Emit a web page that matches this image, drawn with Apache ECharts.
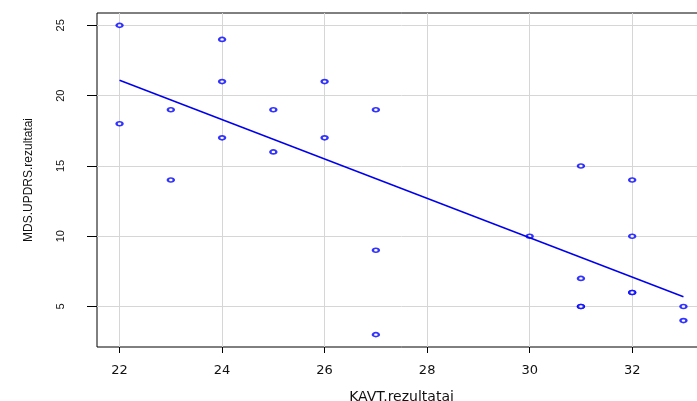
<!DOCTYPE html>
<html>
<head>
<meta charset="utf-8">
<script src="https://cdn.jsdelivr.net/npm/echarts@6/dist/echarts.min.js"></script>
<style>
html, body { margin: 0; padding: 0; background: #fff; overflow: hidden; width: 697px; height: 401px; }
#wrap { width: 697px; height: 401px; overflow: hidden; position: relative; }
#chart { width: 720px; height: 401px; position: absolute; left: 0; top: 0; }
</style>
</head>
<body>
<div id="wrap"><div id="chart"></div></div>
<script>
// KAVT vs MDS-UPDRS scores (duplicated points drawn twice, as in the original)
var kavt = [22, 22, 23, 23, 24, 24, 24, 25, 25, 26, 26, 27, 27, 27, 30, 31, 31, 31, 31, 32, 32, 32, 32, 33, 33];
var updrs = [25, 18, 19, 14, 24, 21, 17, 19, 16, 21, 17, 19, 9, 3, 10, 15, 7, 5, 5, 14, 10, 6, 6, 5, 4];
// fitted line, read at both ends
var fitX = [22, 33];
var fitY = [21.1, 5.7];
var xTicks = [22, 24, 26, 28, 30, 32];
var yTicks = [5, 10, 15, 20, 25];

var points = [];
for (var i = 0; i < kavt.length; i++) {
	points.push([kavt[i], updrs[i]]);
}
var fit = [];
for (var j = 0; j < fitX.length; j++) {
	fit.push([fitX[j], fitY[j]]);
}

// the plot box runs past the right edge of the window, so the canvas is wider than the page
var myChart = echarts.init(document.getElementById('chart'));
var option = {
	backgroundColor : '#fff',
	animation : false,
	grid : {
		left : 97,
		top : 13,
		right : 14,
		bottom : 54,
		outerBoundsMode : 'none',
		show : true,
		borderColor : '#000',
		borderWidth : 1
	},
	xAxis : {
		type : 'value',
		min : 21.56,
		max : 33.44,
		name : 'KAVT.rezultatai',
		nameLocation : 'middle',
		nameGap : 43,
		nameTextStyle : {
			fontFamily : 'DejaVu Sans',
			fontSize : 14,
			color : '#111'
		},
		axisLine : { show : false },
		axisTick : {
			show : true,
			length : 6,
			customValues : xTicks,
			lineStyle : { color : '#000' }
		},
		axisLabel : {
			customValues : xTicks,
			margin : 17,
			fontFamily : 'DejaVu Sans',
			fontSize : 13,
			color : '#111'
		},
		splitLine : {
			show : true,
			lineStyle : { color : '#d6d6d6', width : 1 }
		}
	},
	yAxis : {
		type : 'value',
		min : 2.12,
		max : 25.88,
		name : 'MDS.UPDRS.rezultatai',
		nameLocation : 'middle',
		nameGap : 62,
		nameTextStyle : {
			fontFamily : 'Liberation Sans',
			fontSize : 12,
			color : '#111'
		},
		axisLine : { show : false },
		axisTick : {
			show : true,
			length : 10,
			customValues : yTicks,
			lineStyle : { color : '#000' }
		},
		axisLabel : {
			customValues : yTicks,
			rotate : 90,
			margin : 31,
			fontFamily : 'Liberation Sans',
			fontSize : 11,
			color : '#111'
		},
		splitLine : {
			show : true,
			lineStyle : { color : '#d6d6d6', width : 1 }
		}
	},
	series : [ {
		type : 'scatter',
		symbol : 'emptyCircle',
		symbolSize : [6, 4],
		itemStyle : {
			color : '#0000ff',
			borderWidth : 1
		},
		data : points
	}, {
		type : 'line',
		showSymbol : false,
		lineStyle : { color : '#0000ee', width : 1.5 },
		data : fit
	} ]
};
myChart.setOption(option);
</script>
</body>
</html>
